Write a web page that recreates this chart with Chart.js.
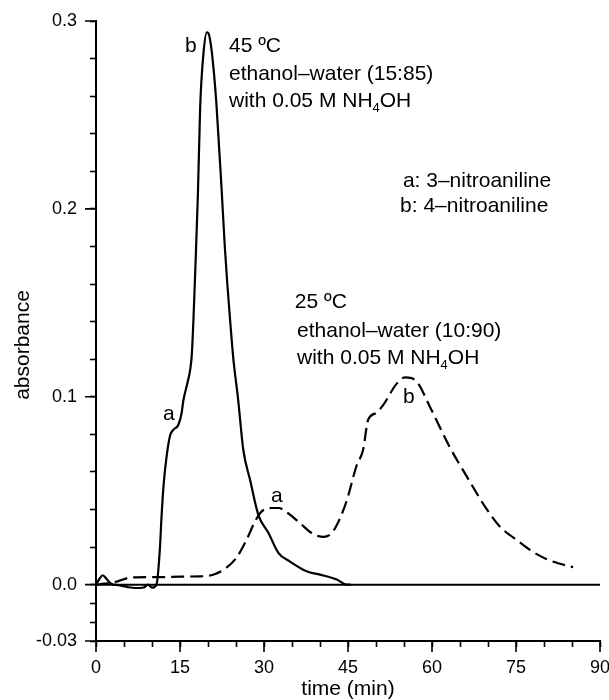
<!DOCTYPE html>
<html>
<head>
<meta charset="utf-8">
<script src="https://cdn.jsdelivr.net/npm/chart.js@4/dist/chart.umd.min.js"></script>
<style>
html,body{margin:0;padding:0;background:#fff;}
canvas{display:block;}
</style>
</head>
<body>
<canvas id="c" width="609" height="700"></canvas>
<script>
// ---- data ----
const time45 = [0,0.6,1.2,1.9,2.7,4,5.5,7,8.5,9.3,10,10.8,11.4,11.7,12.1,12.6,13.2,13.8,14.7,15.3,15.6,16.3,16.8,17.1,17.4,17.7,18.2,18.6,19.2,19.8,20.1,20.7,21.5,22.4,23.0,23.45,23.9,24.5,25.4,26.3,27.5,29,30.8,32.6,34.6,37.6,40,43,44.8,45.5];
const abs45  = [0,0.003,0.005,0.003,0.0005,-0.0003,-0.0012,-0.0018,-0.0015,0,-0.0016,0,0.0186,0.036,0.054,0.068,0.079,0.0824,0.085,0.0915,0.098,0.107,0.114,0.122,0.141,0.165,0.208,0.254,0.283,0.294,0.2934,0.283,0.256,0.212,0.18,0.16,0.1426,0.121,0.098,0.0718,0.0559,0.037,0.0275,0.0168,0.0124,0.0071,0.0053,0.0027,0,0];

const time25 = [0,1.5,3.7,6,9,12,15,18.6,20.9,23.3,25.1,26.9,28.4,29.6,31.4,32.6,34.3,36.4,38.5,40.6,42.1,43.6,44.8,46.5,47.7,48.6,50.0,51.3,53.7,55.2,57.3,59.6,63.2,66.2,69.8,72.1,75.7,78,80.5,83,85.2];
const abs25  = [0,0.0005,0.0016,0.0037,0.004,0.004,0.0043,0.0044,0.0053,0.009,0.0144,0.024,0.0337,0.039,0.0408,0.0408,0.038,0.0328,0.0275,0.0254,0.0275,0.0355,0.045,0.063,0.0718,0.0878,0.0913,0.0957,0.107,0.1103,0.108,0.0948,0.073,0.0576,0.040,0.031,0.0225,0.0175,0.0135,0.011,0.0093];

const baselineTime = [0, 90];
const baselineAbs  = [0, 0];

const xTickValues = [0,5,10,15,20,25,30,35,40,45,50,55,60,65,70,75,80,85,90];
const xMajorTicks = [0,15,30,45,60,75,90];
const xMajorLabels = ['0','15','30','45','60','75','90'];

const yTickValues = [-0.03,-0.02,-0.01,0,0.02,0.04,0.06,0.08,0.1,0.12,0.14,0.16,0.18,0.2,0.22,0.24,0.26,0.28,0.3];
const yMajorTicks = [-0.03,0,0.1,0.2,0.3];
const yMajorLabels = ['-0.03','0.0','0.1','0.2','0.3'];

// annotation texts (anchored in data coordinates)
const notes = [
  {text:'b', t:15.9, a:0.2835},
  {text:'45 ºC', t:23.75, a:0.2835},
  {text:'ethanol–water (15:85)', t:23.75, a:0.2686},
  {text:'with 0.05 M NH|4|OH', t:23.75, a:0.2543},
  {text:'a: 3–nitroaniline', t:54.8, a:0.2117},
  {text:'b: 4–nitroaniline', t:54.3, a:0.1984},
  {text:'25 ºC', t:35.5, a:0.1473},
  {text:'ethanol–water (10:90)', t:35.9, a:0.1319},
  {text:'with 0.05 M NH|4|OH', t:35.9, a:0.1176},
  {text:'b', t:54.8, a:0.0968},
  {text:'a', t:31.25, a:0.0441},
  {text:'a', t:11.96, a:0.0876}
];

const FONT = '"Liberation Sans", Arial, Helvetica, sans-serif';

function pts(xs, ys){ return xs.map((x,i)=>({x:x, y:ys[i]})); }
function findLabel(v, vals, labels){
  for (let i=0;i<vals.length;i++) if (Math.abs(vals[i]-v)<1e-9) return labels[i];
  return '';
}

const extras = {
  id:'extras',
  afterDraw(chart){
    const ctx = chart.ctx;
    const xs = chart.scales.x, ys = chart.scales.y;
    const ca = chart.chartArea;
    ctx.save();
    // longer major ticks
    ctx.strokeStyle = '#000';
    ctx.lineWidth = 1.6;
    ctx.beginPath();
    xMajorTicks.forEach(v=>{
      const px = xs.getPixelForValue(v);
      ctx.moveTo(px, ca.bottom); ctx.lineTo(px, ca.bottom+11);
    });
    yMajorTicks.forEach(v=>{
      const py = ys.getPixelForValue(v);
      ctx.moveTo(ca.left-11, py); ctx.lineTo(ca.left, py);
    });
    ctx.stroke();

    // annotations
    ctx.fillStyle = '#000';
    ctx.textAlign = 'left';
    ctx.textBaseline = 'alphabetic';
    notes.forEach(n=>{
      let x = xs.getPixelForValue(n.t);
      const y = ys.getPixelForValue(n.a);
      const parts = n.text.split('|');
      parts.forEach((p,i)=>{
        if (i===1) {
          ctx.font = '13px ' + FONT;
          ctx.fillText(p, x, y+5);
        } else {
          ctx.font = '21px ' + FONT;
          ctx.fillText(p, x, y);
        }
        x += ctx.measureText(p).width;
      });
    });

    // y axis title
    ctx.font = '21px ' + FONT;
    ctx.translate(28.5, 345);
    ctx.rotate(-Math.PI/2);
    ctx.textAlign = 'center';
    ctx.textBaseline = 'alphabetic';
    ctx.fillText('absorbance', 0, 0);
    ctx.restore();
  }
};

new Chart(document.getElementById('c'), {
  type:'line',
  data:{
    datasets:[
      {label:'45 ºC', data:pts(time45, abs45), borderColor:'#000', borderWidth:2.2,
       pointRadius:0, cubicInterpolationMode:'monotone', fill:false},
      {label:'25 ºC', data:pts(time25, abs25), borderColor:'#000', borderWidth:2.2,
       borderDash:[13,6], pointRadius:0, cubicInterpolationMode:'monotone', fill:false},
      {label:'baseline', data:pts(baselineTime, baselineAbs), borderColor:'#000', borderWidth:2,
       pointRadius:0, fill:false}
    ]
  },
  options:{
    responsive:false,
    animation:false,
    devicePixelRatio:1,
    layout:{padding:{left:0, right:9, top:21, bottom:0}},
    plugins:{legend:{display:false}, tooltip:{enabled:false}},
    scales:{
      x:{
        type:'linear', min:0, max:90,
        afterBuildTicks(s){ s.ticks = xTickValues.map(v=>({value:v})); },
        afterFit(s){ s.height = 59; s.paddingLeft = 0; s.paddingRight = 0; },
        ticks:{autoSkip:false, maxRotation:0, padding:10, color:'#000',
               font:{family:FONT, size:18},
               callback:(v)=>findLabel(v, xMajorTicks, xMajorLabels)},
        grid:{drawOnChartArea:false, drawTicks:true, tickLength:6, tickWidth:1.6, tickColor:'#000'},
        border:{display:true, color:'#000', width:2},
        title:{display:true, text:'time (min)', color:'#000',
               font:{family:FONT, size:21, lineHeight:1}, padding:{top:0, bottom:0}}
      },
      y:{
        type:'linear', min:-0.03, max:0.3,
        afterBuildTicks(s){ s.ticks = yTickValues.map(v=>({value:v})); },
        afterFit(s){ s.width = 96; s.paddingTop = 0; s.paddingBottom = 0; },
        ticks:{autoSkip:false, padding:13, color:'#000',
               font:{family:FONT, size:18},
               callback:(v)=>findLabel(v, yMajorTicks, yMajorLabels)},
        grid:{drawOnChartArea:false, drawTicks:true, tickLength:6, tickWidth:1.6, tickColor:'#000'},
        border:{display:true, color:'#000', width:2}
      }
    }
  },
  plugins:[extras]
});
</script>
</body>
</html>
